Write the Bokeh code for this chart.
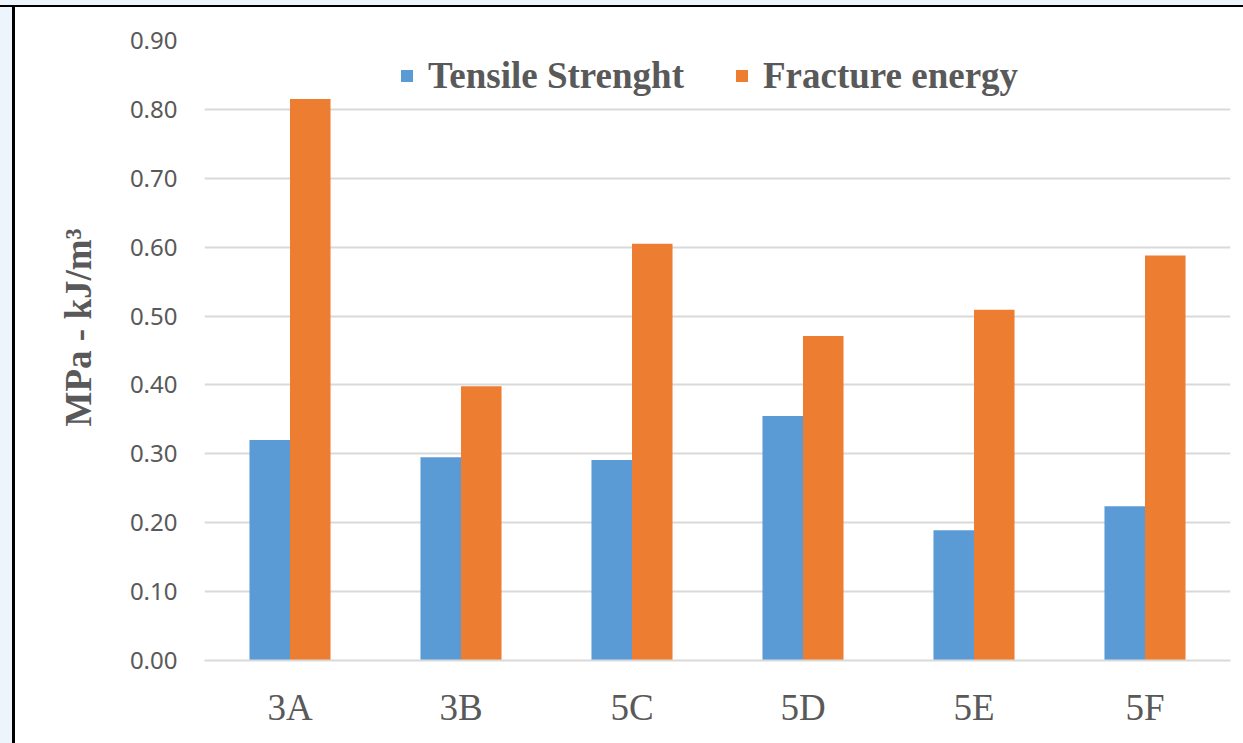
from bokeh.plotting import figure
from bokeh.models import ColumnDataSource, FixedTicker, PrintfTickFormatter, Legend, LegendItem, FactorRange
from bokeh.transform import dodge
from bokeh.embed import file_html
from bokeh.resources import INLINE

categories = ["3A", "3B", "5C", "5D", "5E", "5F"]
tensile_strength = [0.320, 0.295, 0.291, 0.355, 0.189, 0.224]
fracture_energy = [0.815, 0.398, 0.605, 0.471, 0.509, 0.588]
y_ticks = [0.0, 0.1, 0.2, 0.3, 0.4, 0.5, 0.6, 0.7, 0.8, 0.9]

source = ColumnDataSource(dict(cat=categories, ts=tensile_strength, fe=fracture_energy))

p = figure(x_range=FactorRange(*categories, range_padding=0), y_range=(0, 0.9),
           width=1243, height=743, output_backend="svg", toolbar_location=None,
           min_border_left=189, min_border_right=28, min_border_top=33, min_border_bottom=90)
p.styles = {
    "padding-left": "15px", "padding-top": "7px",
    "background-image": ("linear-gradient(to bottom, #EEF4FC 0px, #EEF4FC 5px, black 5px, black 7px, transparent 7px), "
                         "linear-gradient(to right, #EEF4FC 0px, #EEF4FC 12px, black 12px, black 15px, transparent 15px)"),
    "background-repeat": "no-repeat",
}
p.outline_line_color = None
p.background_fill_color = "white"
p.border_fill_color = "white"

bw = 0.237
r1 = p.vbar(x=dodge("cat", -0.1185, range=p.x_range), top="ts", width=bw, source=source,
            fill_color="#5B9BD5", line_color=None)
r2 = p.vbar(x=dodge("cat", 0.1185, range=p.x_range), top="fe", width=bw, source=source,
            fill_color="#ED7D31", line_color=None)

p.yaxis.ticker = FixedTicker(ticks=y_ticks)
p.yaxis.formatter = PrintfTickFormatter(format="%.2f")
p.yaxis.axis_line_color = None
p.yaxis.major_tick_line_color = None
p.yaxis.minor_tick_line_color = None
p.yaxis.major_label_text_font = "Noto Sans"
p.yaxis.major_label_text_font_size = "24px"
p.yaxis.major_label_text_color = "#595959"
p.yaxis.major_label_standoff = 21
p.yaxis.axis_label = "\u00a0" * 5 + "MPa - kJ/m³"
p.yaxis.axis_label_text_font = "Liberation Serif"
p.yaxis.axis_label_text_font_style = "bold"
p.yaxis.axis_label_text_font_size = "37px"
p.yaxis.axis_label_text_color = "#595959"
p.yaxis.axis_label_standoff = 28

p.xaxis.axis_line_color = "#D9D9D9"
p.xaxis.axis_line_width = 2
p.xaxis.major_tick_line_color = None
p.xaxis.minor_tick_line_color = None
p.xaxis.major_label_text_font = "Liberation Serif"
p.xaxis.major_label_text_font_size = "37px"
p.xaxis.major_label_text_color = "#595959"
p.xaxis.major_label_standoff = 20

p.xgrid.grid_line_color = None
p.ygrid.grid_line_color = "#D9D9D9"
p.ygrid.grid_line_width = 2

legend = Legend(items=[LegendItem(label="Tensile Strenght", renderers=[r1]),
                       LegendItem(label="Fracture energy", renderers=[r2])],
                orientation="horizontal", location=(195, 563))
legend.border_line_color = None
legend.background_fill_alpha = 0
legend.padding = 0
legend.margin = 0
legend.glyph_width = 15
legend.glyph_height = 15
legend.label_standoff = 14
legend.spacing = 50
legend.label_text_font = "Liberation Serif"
legend.label_text_font_style = "bold"
legend.label_text_font_size = "37px"
legend.label_text_color = "#595959"
p.add_layout(legend, "center")

open("out.html", "w").write(file_html(p, INLINE))
